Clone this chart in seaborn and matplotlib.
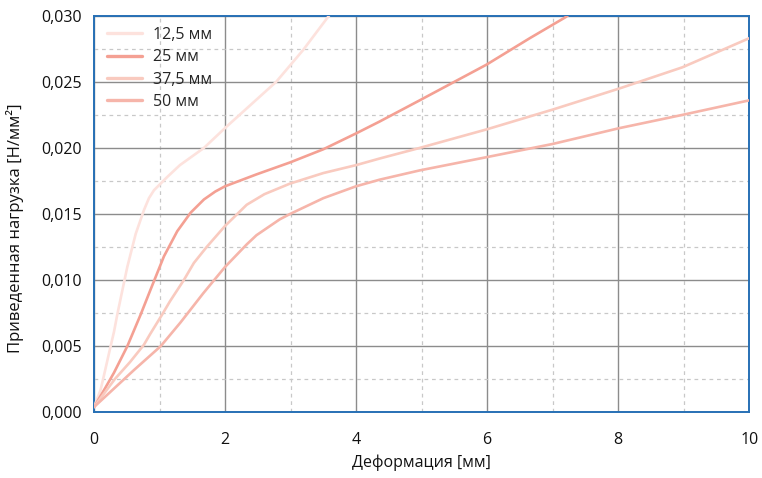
import pandas as pd
import matplotlib.pyplot as plt
import matplotlib.ticker as ticker
import seaborn as sns

# values
x_125 = [0, 0.10, 0.152, 0.23, 0.305, 0.355, 0.431, 0.508, 0.636, 0.762, 0.838, 0.915,
         1.117, 1.311, 1.677, 2.02, 2.78, 3.19, 3.57, 3.7]
y_125 = [0.0004, 0.0017, 0.0028, 0.0045, 0.0061, 0.0074, 0.0092, 0.0110, 0.0135, 0.0153,
         0.0162, 0.0168, 0.0178, 0.0187, 0.0200, 0.0216, 0.0250, 0.0274, 0.0299, 0.0308]

x_25 = [0, 0.178, 0.305, 0.508, 0.712, 0.864, 1.067, 1.27, 1.474, 1.677, 1.85, 2.0, 2.48,
        2.99, 3.5, 4.0, 4.36, 4.97, 5.99, 6.65, 7.2, 7.4]
y_25 = [0.0004, 0.0019, 0.0030, 0.0050, 0.0074, 0.0093, 0.0118, 0.0137, 0.0151, 0.0161,
        0.0167, 0.0171, 0.0180, 0.0189, 0.0199, 0.0211, 0.0220, 0.0236, 0.0263, 0.0283,
        0.0299, 0.0307]

x_375 = [0, 0.315, 0.549, 0.76, 0.854, 1.04, 1.159, 1.37, 1.524, 1.718, 2.0, 2.33, 2.6,
         2.99, 3.5, 4.0, 4.36, 4.97, 5.99, 7.0, 8.02, 8.98, 10]
y_375 = [0.0004, 0.0025, 0.0038, 0.0051, 0.0059, 0.0074, 0.0084, 0.0100, 0.0113, 0.0125,
         0.0141, 0.0157, 0.0165, 0.0173, 0.0181, 0.0187, 0.0192, 0.0200, 0.0214, 0.0229,
         0.0245, 0.0261, 0.0283]

x_50 = [0, 0.305, 0.61, 1.017, 1.32, 1.666, 2.0, 2.33, 2.48, 2.835, 2.99, 3.5, 4.0,
        4.36, 4.97, 5.99, 7.0, 8.02, 8.98, 10]
y_50 = [0.0004, 0.0018, 0.0032, 0.0050, 0.0068, 0.0090, 0.0110, 0.0127, 0.0134, 0.0146,
        0.0150, 0.0162, 0.0171, 0.0176, 0.0183, 0.0193, 0.0203, 0.0215, 0.0225, 0.0236]

labels = ["12,5 мм", "25 мм", "37,5 мм", "50 мм"]
colors = ["#fde2dd", "#f4a093", "#f9cabf", "#f6b5aa"]

series = [(x_125, y_125), (x_25, y_25), (x_375, y_375), (x_50, y_50)]
df = pd.concat([pd.DataFrame({"x": xs, "y": ys, "size": lab})
                for lab, (xs, ys) in zip(labels, series)], ignore_index=True)

sns.set_theme(style="white")
plt.rcParams["font.family"] = ["Open Sans", "DejaVu Sans"]

fig = plt.figure(figsize=(7.62, 4.78), dpi=100)
ax = fig.add_axes([0.1234, 0.1374, 0.8599, 0.8297])

sns.lineplot(data=df, x="x", y="y", hue="size", hue_order=labels,
             palette=dict(zip(labels, colors)), sort=False, estimator=None,
             linewidth=1.9, ax=ax, zorder=3)
for ln in ax.get_lines():
    ln.set_solid_joinstyle("round")
    ln.set_solid_capstyle("round")

ax.set_xlim(0, 10)
ax.set_ylim(0, 0.030)
ax.xaxis.set_major_locator(ticker.MultipleLocator(2))
ax.xaxis.set_minor_locator(ticker.MultipleLocator(1))
ax.yaxis.set_major_locator(ticker.MultipleLocator(0.005))
ax.yaxis.set_minor_locator(ticker.MultipleLocator(0.0025))
ax.yaxis.set_major_formatter(ticker.FuncFormatter(lambda v, p: f"{v:.3f}".replace(".", ",")))

ax.grid(which="major", color="#8c8c8c", linewidth=1.0, linestyle="-")
ax.grid(which="minor", color="#c8c8c8", linewidth=0.9, linestyle=(0, (3, 3)))
ax.set_axisbelow(True)

for sp in ax.spines.values():
    sp.set_color("#2770b5")
    sp.set_linewidth(1.4)

ax.tick_params(which="both", length=0, labelsize=11.5, colors="#111111")
ax.tick_params(axis="x", pad=14)
ax.tick_params(axis="y", pad=9)
ax.set_xlabel("Деформация [мм]", fontsize=11.5, labelpad=5, color="#111111")
ax.set_ylabel("Приведенная нагрузка [Н/мм²]", fontsize=12, labelpad=8, color="#111111")
ax.yaxis.set_label_coords(-0.107, 0.465)

ax.legend(loc="upper left", frameon=False, fontsize=11.5, handlelength=2.2,
          handletextpad=0.65, labelspacing=0.4, borderaxespad=0, borderpad=0,
          bbox_to_anchor=(0.02, 0.972))
for h in ax.get_legend().get_lines():
    h.set_linewidth(2.4)

fig.savefig("out.png", dpi=100)
